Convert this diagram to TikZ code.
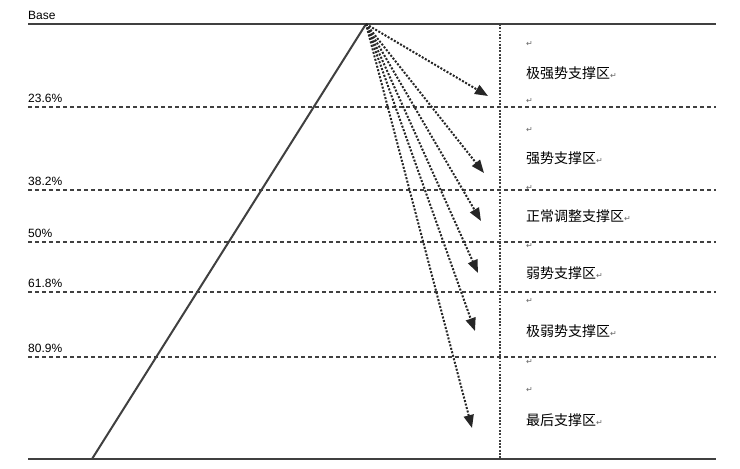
\documentclass[tikz,border=0pt]{standalone}
\usepackage{fontspec}
\setmainfont{Liberation Sans}
\newfontfamily\cjk{Noto Sans CJK SC}
\newfontfamily\djvfont{DejaVu Sans}
\usetikzlibrary{arrows.meta}
\newcommand\pmark{{\djvfont\fontsize{8}{8}\selectfont\color{black!60}↵}}
\begin{document}
\begin{tikzpicture}[x=1pt,y=-1pt,
  lvl/.style={draw=black!75,line width=1.5pt,dash pattern=on 4pt off 3pt},
  solidl/.style={draw=black!75,line width=2pt},
  arr/.style={draw=black!85,line width=2pt,dash pattern=on 2pt off 1.6pt,-{Triangle[length=13pt,width=10pt,fill=black!85]}},
  pct/.style={anchor=base west,font=\fontsize{12}{12}\selectfont,inner sep=0pt},
  zone/.style={anchor=west,font=\cjk\fontsize{14}{14}\selectfont,inner sep=0pt},
  pm/.style={anchor=west,inner sep=0pt}]
\useasboundingbox (0,0) rectangle (740,469);
\fill[white] (0,0) rectangle (740,469);
\draw[solidl] (28,24) -- (716,24);
\draw[solidl] (28,459) -- (716,459);
\foreach \y in {107,190,242,292,357} \draw[lvl] (28,\y) -- (716,\y);
\draw[draw=black!75,line width=1.8pt,dash pattern=on 1.8pt off 1.5pt] (500,24) -- (500,459);
\coordinate (top) at (366,24);
\coordinate (bot) at (92,459);
\draw[solidl] (bot) -- (top);
\coordinate (a1) at (488,96);
\coordinate (a2) at (484,173);
\coordinate (a3) at (481,221);
\coordinate (a4) at (478,273);
\coordinate (a5) at (475,331);
\coordinate (a6) at (472,428);
\foreach \a in {a1,a2,a3,a4,a5,a6} \draw[arr] (top) -- (\a);
\node[pct] (b) at (28,19) {Base};
\node[pct] (p1) at (28,102) {23.6\%};
\node[pct] (p2) at (28,185) {38.2\%};
\node[pct] (p3) at (28,237) {50\%};
\node[pct] (p4) at (28,287) {61.8\%};
\node[pct] (p5) at (28,352) {80.9\%};
\node[zone] (z1) at (526,73) {极强势支撑区\pmark};
\node[zone] (z2) at (526,158) {强势支撑区\pmark};
\node[zone] (z3) at (526,216) {正常调整支撑区\pmark};
\node[zone] (z4) at (526,273) {弱势支撑区\pmark};
\node[zone] (z5) at (526,331) {极弱势支撑区\pmark};
\node[zone] (z6) at (526,420) {最后支撑区\pmark};
\foreach \y [count=\i] in {44,101,130,188,246,301,362,390} \node[pm] (m\i) at (526,\y) {\pmark};
\end{tikzpicture}
\end{document}
